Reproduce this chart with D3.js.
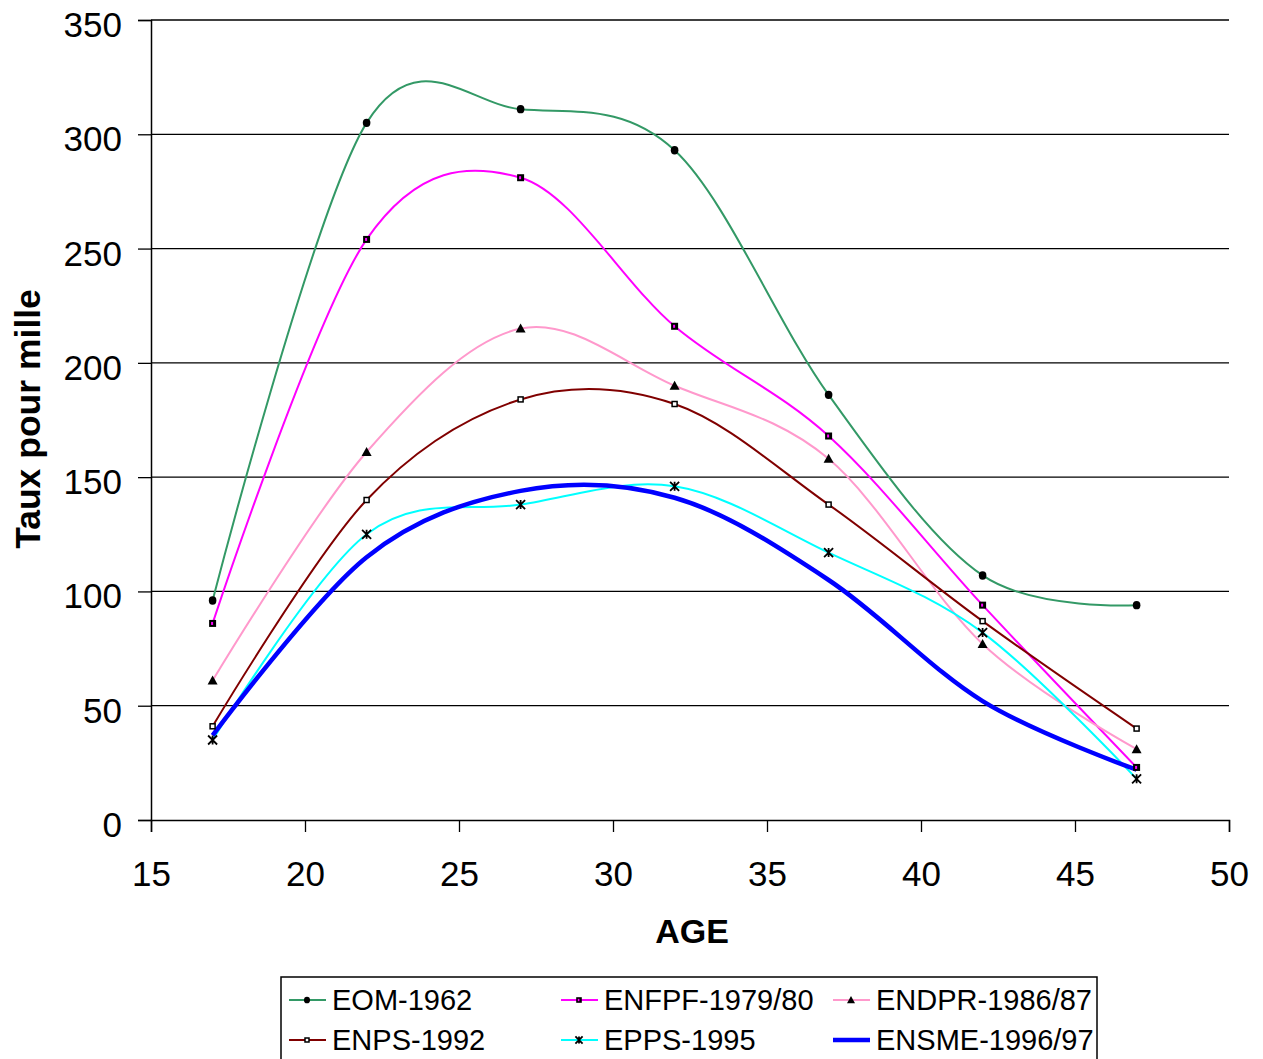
<!DOCTYPE html>
<html>
<head>
<meta charset="utf-8">
<script src="https://cdn.jsdelivr.net/npm/d3@7"></script>
<style>
  body { margin: 0; background: #fff; }
  text { font-family: Arial, "Liberation Sans", sans-serif; }
</style>
</head>
<body>
<div id="chart"></div>
<script>
// ages of the data points (x values)
const ages = [17, 22, 27, 32, 37, 42, 47];

// taux pour mille
const eom1962 = [96, 305, 311, 293, 186, 107, 94];
const enfpf7980 = [86, 254, 281, 216, 168, 94, 23];
const endpr8687 = [61, 161, 215, 190, 158, 77, 31];
const enps1992 = [41, 140, 184, 182, 138, 87, 40];
const epps1995 = [35, 125, 138, 146, 117, 82, 18];
const ensme9697 = [37, 115, 144, 141, 105, 52, 22];

const seriesNames = ["EOM-1962", "ENFPF-1979/80", "ENDPR-1986/87", "ENPS-1992", "EPPS-1995", "ENSME-1996/97"];

const xTicks = [15, 20, 25, 30, 35, 40, 45, 50];
const yTicks = [0, 50, 100, 150, 200, 250, 300, 350];

const W = 1263, H = 1059;
const margins = { top: 20, right: 34, bottom: 239, left: 151 };
const width = W - margins.left - margins.right;   // 1078
const height = H - margins.top - margins.bottom;  // 800

const svg = d3.select("#chart").append("svg")
    .attr("width", W)
    .attr("height", H);

const g = svg.append("g")
    .attr("transform", `translate(${margins.left}, ${margins.top})`);

const x = d3.scaleLinear().domain([15, 50]).range([0, width]);
const y = d3.scaleLinear().domain([0, 350]).range([height, 0]);

// styles per series
const styles = [
    { values: eom1962,   color: "#339966", w: 2,   marker: "circle" },
    { values: enfpf7980, color: "#ff00ff", w: 2,   marker: "square" },
    { values: endpr8687, color: "#ff99cc", w: 2,   marker: "triangle" },
    { values: enps1992,  color: "#800000", w: 2,   marker: "smallsquare" },
    { values: epps1995,  color: "#00ffff", w: 2,   marker: "star" },
    { values: ensme9697, color: "#0000ff", w: 4.5, marker: null }
];

// gridlines
g.append("g")
    .selectAll("line")
    .data(yTicks.filter(d => d > 0))
    .enter().append("line")
    .attr("x1", 0).attr("x2", width)
    .attr("y1", d => y(d)).attr("y2", d => y(d))
    .attr("stroke", "#000").attr("stroke-width", 1.3);

// axes
const yAxis = g.append("g")
    .call(d3.axisLeft(y).tickValues(yTicks).tickSize(13).tickPadding(16));
const xAxis = g.append("g")
    .attr("transform", `translate(0, ${height})`)
    .call(d3.axisBottom(x).tickValues(xTicks).tickSize(12).tickPadding(29));

[xAxis, yAxis].forEach(a => {
    a.select(".domain").attr("stroke", "#000").attr("stroke-width", 1.5);
    a.selectAll(".tick line").attr("stroke", "#000").attr("stroke-width", 1.3);
    a.selectAll(".tick text")
        .attr("font-size", "35px")
        .attr("fill", "#000")
        .style("font-family", "Arial, 'Liberation Sans', sans-serif");
});
yAxis.selectAll(".tick text").attr("dy", "0.47em");

// axis titles
svg.append("text")
    .attr("x", 692).attr("y", 943)
    .attr("text-anchor", "middle")
    .attr("font-size", "34px").attr("font-weight", "bold")
    .text("AGE");

svg.append("text")
    .attr("transform", "translate(40, 419) rotate(-90)")
    .attr("text-anchor", "middle")
    .attr("font-size", "35.5px").attr("font-weight", "bold")
    .text("Taux pour mille");

// lines (Excel-like smoothing)
const line = d3.line()
    .x(d => x(d[0]))
    .y(d => y(d[1]))
    .curve(d3.curveCardinal.tension(0));

styles.forEach(s => {
    const pts = ages.map((a, i) => [a, s.values[i]]);
    g.append("path")
        .datum(pts)
        .attr("fill", "none")
        .attr("stroke", s.color)
        .attr("stroke-width", s.w)
        .attr("stroke-linejoin", "round")
        .attr("d", line);
});

// marker drawing helper
function drawMarker(sel, type, color, cx, cy, scale) {
    const k = scale || 1;
    if (type === "circle") {
        sel.append("ellipse").attr("cx", cx).attr("cy", cy)
            .attr("rx", 3.8 * k).attr("ry", 4.2 * k).attr("fill", "#000");
    } else if (type === "square") {
        sel.append("rect").attr("x", cx - 3.5 * k).attr("y", cy - 3.5 * k)
            .attr("width", 7 * k).attr("height", 7 * k)
            .attr("fill", "#000");
        sel.append("rect").attr("x", cx - 1.5 * k).attr("y", cy - 1.5 * k)
            .attr("width", 2 * k).attr("height", 3 * k)
            .attr("fill", color);
    } else if (type === "triangle") {
        const r = 5 * k;
        sel.append("path")
            .attr("d", `M${cx},${cy - r}L${cx + r},${cy + r * 0.8}L${cx - r},${cy + r * 0.8}Z`)
            .attr("fill", "#000");
    } else if (type === "smallsquare") {
        sel.append("rect").attr("x", cx - 2.5 * k).attr("y", cy - 2.5 * k)
            .attr("width", 5 * k).attr("height", 5 * k)
            .attr("fill", "#fff").attr("stroke", "#000").attr("stroke-width", 1.5);
    } else if (type === "star") {
        const r = 4.5 * k;
        sel.append("path")
            .attr("d", `M${cx - r},${cy - r}L${cx + r},${cy + r}M${cx + r},${cy - r}L${cx - r},${cy + r}M${cx},${cy - r}L${cx},${cy + r}`)
            .attr("stroke", "#000").attr("stroke-width", 1.8).attr("fill", "none");
    }
}

// markers on data points
styles.forEach(s => {
    if (!s.marker) return;
    const mg = g.append("g");
    ages.forEach((a, i) => drawMarker(mg, s.marker, s.color, x(a), y(s.values[i])));
});

// legend
const legend = svg.append("g");
legend.append("rect")
    .attr("x", 281).attr("y", 977)
    .attr("width", 816).attr("height", 90)
    .attr("fill", "#fff").attr("stroke", "#000").attr("stroke-width", 1.5);

const colX = [289, 561, 833];
const rowY = [1000, 1040];
styles.forEach((s, i) => {
    const cx = colX[i % 3], cy = rowY[Math.floor(i / 3)];
    const item = legend.append("g");
    item.append("line")
        .attr("x1", cx).attr("x2", cx + 37)
        .attr("y1", cy).attr("y2", cy)
        .attr("stroke", s.color).attr("stroke-width", s.w === 2 ? 2 : 4.5);
    if (s.marker) drawMarker(item, s.marker, s.color, cx + 18, cy, 0.8);
    item.append("text")
        .attr("x", cx + 43).attr("y", cy + 10)
        .attr("font-size", "29px")
        .text(seriesNames[i]);
});
</script>
</body>
</html>
